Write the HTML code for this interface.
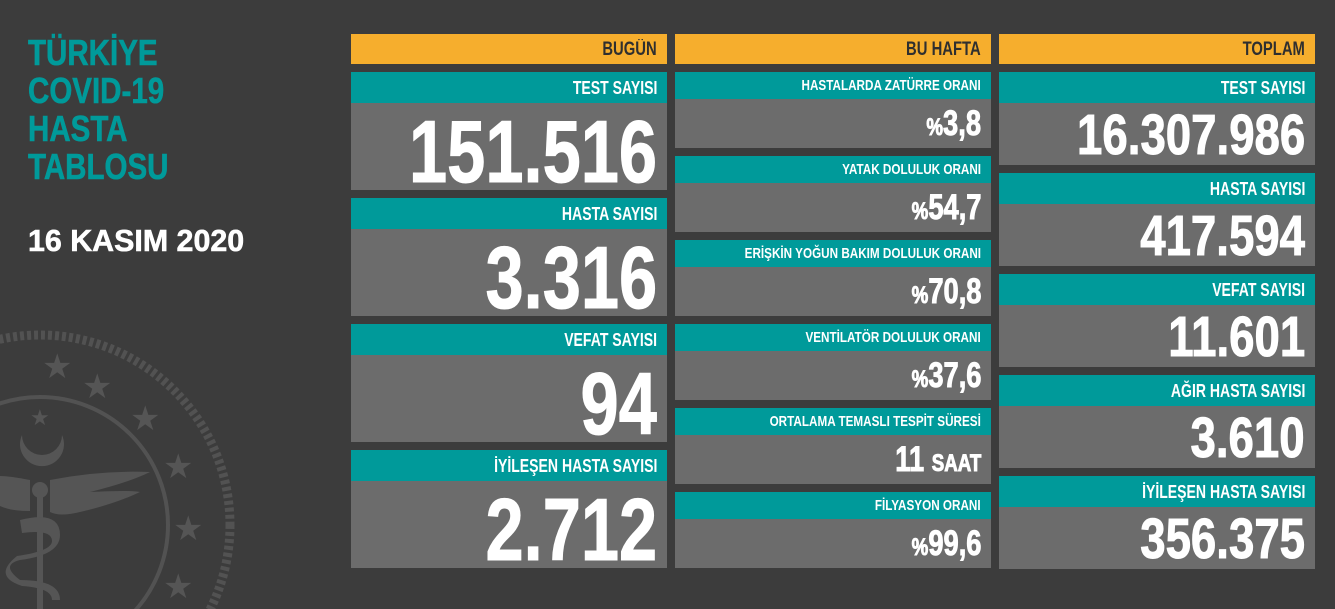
<!DOCTYPE html>
<html><head><meta charset="utf-8"><style>
*{margin:0;padding:0;box-sizing:border-box}
html,body{width:1335px;height:609px;overflow:hidden}
body{background:#3c3c3c;position:relative;font-family:"Liberation Sans",sans-serif;font-weight:bold}
.b{position:absolute}
.t{position:absolute;right:10px;white-space:nowrap;transform-origin:right center;transform:scaleX(0.78)}
.or{background:#f6ae2d;color:#2f2f2f}
.tl{background:#009a9a;color:#fff}
.gr{background:#6c6c6c;color:#fff}
.gr .t{-webkit-text-stroke:1px #fff}
.title{position:absolute;left:28px;color:#009a9a;font-size:36px;line-height:38px;transform-origin:left top;transform:scaleX(0.82);white-space:nowrap;-webkit-text-stroke:0.6px #009a9a}
</style></head><body>
<svg class="b" style="left:0;top:0" width="340" height="609">
<g fill="none" stroke="#525252">
<circle cx="40" cy="525" r="190" stroke-width="9" stroke-dasharray="4 3"/>
<circle cx="40" cy="525" r="128" stroke-width="4"/>
</g>
<g fill="#555">
<text x="42" y="378" font-size="34" font-family="DejaVu Sans">★</text>
<text x="82" y="398" font-size="34" font-family="DejaVu Sans">★</text>
<text x="130" y="430" font-size="34" font-family="DejaVu Sans">★</text>
<text x="163" y="478" font-size="34" font-family="DejaVu Sans">★</text>
<text x="173" y="540" font-size="34" font-family="DejaVu Sans">★</text>
<text x="163" y="598" font-size="34" font-family="DejaVu Sans">★</text>
<text x="30" y="425" font-size="22" font-family="DejaVu Sans">★</text>
<path d="M22 435 a22 22 0 1 0 40 0 a18 18 0 1 1 -40 0z"/>
<path d="M50 480 q50 -10 100 -8 q-20 10 -60 20 q40 -2 50 0 q-25 12 -60 20 q-20 5 -30 0z"/>
<path d="M30 480 q-20 -4 -30 -4 v30 q10 5 30 5z"/>
<circle cx="40" cy="490" r="8"/>
<rect x="37" y="490" width="6" height="119"/>
<path d="M20 520 q40 -10 40 15 q0 20 -40 25 q-20 5 0 20 q40 0 40 20 l-8 0 q0 -12 -30 -14 q-30 -10 -5 -30 q35 -5 35 -15 q0 -12 -30 -8z"/>
</g>
</svg>
<div class="title" style="top:34px">TÜRKİYE</div>
<div class="title" style="top:72px">COVID-19</div>
<div class="title" style="top:110px">HASTA</div>
<div class="title" style="top:148px">TABLOSU</div>
<div class="title" style="top:222px;color:#fff;font-size:31px;transform:scaleX(0.98);-webkit-text-stroke:0.6px #fff">16 KASIM 2020</div>

<div class="b or" style="left:351px;top:34px;width:316px;height:30px"><span class="t" style="font-size:19px;top:5px">BUGÜN</span></div>

<div class="b tl" style="left:351px;top:72px;width:316px;height:31px"><span class="t" style="font-size:18px;top:6px">TEST SAYISI</span></div>
<div class="b gr" style="left:351px;top:103px;width:316px;height:87px"><span class="t" style="font-size:88px;top:-2px">151.516</span></div>
<div class="b tl" style="left:351px;top:198px;width:316px;height:31px"><span class="t" style="font-size:18px;top:6px">HASTA SAYISI</span></div>
<div class="b gr" style="left:351px;top:229px;width:316px;height:87px"><span class="t" style="font-size:88px;top:-2px">3.316</span></div>
<div class="b tl" style="left:351px;top:324px;width:316px;height:31px"><span class="t" style="font-size:18px;top:6px">VEFAT SAYISI</span></div>
<div class="b gr" style="left:351px;top:355px;width:316px;height:87px"><span class="t" style="font-size:88px;top:-2px">94</span></div>
<div class="b tl" style="left:351px;top:450px;width:316px;height:31px"><span class="t" style="font-size:18px;top:6px">İYİLEŞEN HASTA SAYISI</span></div>
<div class="b gr" style="left:351px;top:481px;width:316px;height:87px"><span class="t" style="font-size:88px;top:-2px">2.712</span></div>

<div class="b or" style="left:675px;top:34px;width:316px;height:30px"><span class="t" style="font-size:19px;top:5px">BU HAFTA</span></div>

<div class="b tl" style="left:675px;top:72px;width:316px;height:27px"><span class="t" style="font-size:15px;top:5px">HASTALARDA ZATÜRRE ORANI</span></div>
<div class="b gr" style="left:675px;top:99px;width:316px;height:49px"><span class="t" style="font-size:35px;top:5px"><span style="font-size:24px">%</span>3,8</span></div>
<div class="b tl" style="left:675px;top:156px;width:316px;height:27px"><span class="t" style="font-size:15px;top:5px">YATAK DOLULUK ORANI</span></div>
<div class="b gr" style="left:675px;top:183px;width:316px;height:49px"><span class="t" style="font-size:35px;top:5px"><span style="font-size:24px">%</span>54,7</span></div>
<div class="b tl" style="left:675px;top:240px;width:316px;height:27px"><span class="t" style="font-size:15px;top:5px">ERİŞKİN YOĞUN BAKIM DOLULUK ORANI</span></div>
<div class="b gr" style="left:675px;top:267px;width:316px;height:49px"><span class="t" style="font-size:35px;top:5px"><span style="font-size:24px">%</span>70,8</span></div>
<div class="b tl" style="left:675px;top:324px;width:316px;height:27px"><span class="t" style="font-size:15px;top:5px">VENTİLATÖR DOLULUK ORANI</span></div>
<div class="b gr" style="left:675px;top:351px;width:316px;height:49px"><span class="t" style="font-size:35px;top:5px"><span style="font-size:24px">%</span>37,6</span></div>
<div class="b tl" style="left:675px;top:408px;width:316px;height:27px"><span class="t" style="font-size:15px;top:5px">ORTALAMA TEMASLI TESPİT SÜRESİ</span></div>
<div class="b gr" style="left:675px;top:435px;width:316px;height:49px"><span class="t" style="font-size:35px;top:5px">11 <span style="font-size:24px">SAAT</span></span></div>
<div class="b tl" style="left:675px;top:492px;width:316px;height:27px"><span class="t" style="font-size:15px;top:5px">FİLYASYON ORANI</span></div>
<div class="b gr" style="left:675px;top:519px;width:316px;height:49px"><span class="t" style="font-size:35px;top:5px"><span style="font-size:24px">%</span>99,6</span></div>

<div class="b or" style="left:999px;top:34px;width:316px;height:30px"><span class="t" style="font-size:19px;top:5px">TOPLAM</span></div>

<div class="b tl" style="left:999px;top:72px;width:316px;height:31px"><span class="t" style="font-size:18px;top:6px">TEST SAYISI</span></div>
<div class="b gr" style="left:999px;top:103px;width:316px;height:62px"><span class="t" style="font-size:57px;top:-1px;transform:scaleX(0.8)">16.307.986</span></div>
<div class="b tl" style="left:999px;top:173px;width:316px;height:31px"><span class="t" style="font-size:18px;top:6px">HASTA SAYISI</span></div>
<div class="b gr" style="left:999px;top:204px;width:316px;height:62px"><span class="t" style="font-size:57px;top:-1px;transform:scaleX(0.8)">417.594</span></div>
<div class="b tl" style="left:999px;top:274px;width:316px;height:31px"><span class="t" style="font-size:18px;top:6px">VEFAT SAYISI</span></div>
<div class="b gr" style="left:999px;top:305px;width:316px;height:62px"><span class="t" style="font-size:57px;top:-1px;transform:scaleX(0.8)">11.601</span></div>
<div class="b tl" style="left:999px;top:375px;width:316px;height:31px"><span class="t" style="font-size:18px;top:6px">AĞIR HASTA SAYISI</span></div>
<div class="b gr" style="left:999px;top:406px;width:316px;height:62px"><span class="t" style="font-size:57px;top:-1px;transform:scaleX(0.8)">3.610</span></div>
<div class="b tl" style="left:999px;top:476px;width:316px;height:31px"><span class="t" style="font-size:18px;top:6px">İYİLEŞEN HASTA SAYISI</span></div>
<div class="b gr" style="left:999px;top:507px;width:316px;height:62px"><span class="t" style="font-size:57px;top:-1px;transform:scaleX(0.8)">356.375</span></div>
</body></html>
